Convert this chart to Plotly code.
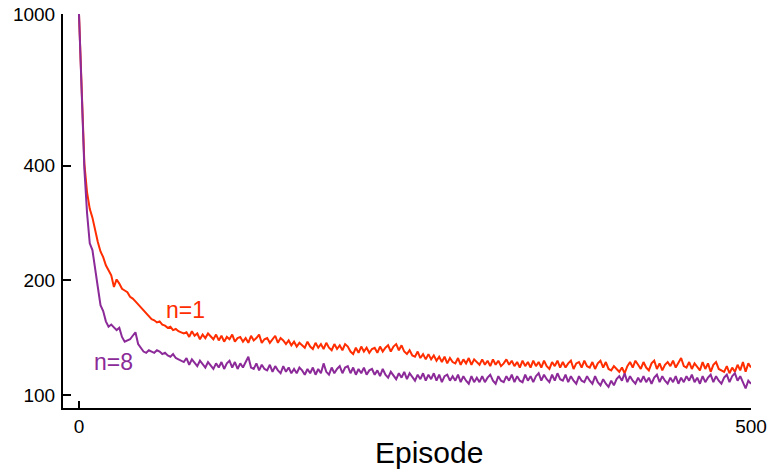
import math
import plotly.graph_objects as go

# Episodes sampled every 2 episodes (0..500)
episodes = list(range(0, 501, 2))

# n=1 (red) values
n1_values = [
    1000, 640, 405, 340, 308, 292, 268, 252, 238, 230,
    219, 213, 206, 192, 201, 196, 190, 188, 186, 181,
    179, 176, 173, 170, 167, 164, 161, 158, 157, 155,
    156, 153, 152, 150, 151, 148, 149, 147, 146, 145,
    146, 142, 147, 143, 145, 140, 144, 141, 145, 142,
    140, 144, 139, 143, 138, 142, 140, 144, 138, 141,
    142, 138, 141, 137, 143, 139, 141, 144, 137, 140,
    141, 137, 140, 143, 137, 141, 139, 136, 139, 135,
    138, 134, 137, 135, 133, 138, 134, 132, 137, 133,
    136, 132, 137, 133, 131, 136, 132, 135, 131, 136,
    134, 130, 128, 133, 129, 134, 130, 133, 129, 132,
    133, 129, 134, 130, 133, 135, 130, 134, 136, 131,
    135, 130, 128, 131, 127, 126, 130, 125, 128, 124,
    128, 124, 127, 123, 126, 122, 126, 121, 125, 122,
    121, 125, 120, 124, 121, 125, 120, 124, 122, 120,
    124, 120, 123, 119, 124, 120, 123, 119, 121, 124,
    120, 123, 119, 122, 118, 123, 119, 122, 118, 123,
    119, 122, 118, 123, 119, 117, 122, 119, 123, 118,
    122, 118, 121, 123, 117, 121, 122, 118, 123, 119,
    118, 122, 117, 121, 123, 118, 122, 117, 116, 119,
    117, 115, 118, 114, 119, 122, 118, 123, 120, 117,
    122, 118, 116, 121, 123, 117, 121, 116, 120, 122,
    119, 123, 118, 122, 125, 119, 118, 122, 117, 121,
    118, 116, 122, 117, 121, 115, 120, 122, 117, 116,
    115, 119, 114, 118, 115, 120, 116, 122, 115, 121,
    118,
]

# n=8 (purple) values
n8_values = [
    1000, 620, 392, 300, 250, 240, 212, 192, 172, 166,
    156, 151, 153, 150, 148, 150, 142, 138, 139, 140,
    143, 146, 136, 133, 130, 129, 131, 130, 129, 131,
    130, 128, 129, 127, 126, 128, 125, 124, 123, 122,
    125, 120, 124, 121, 119, 123, 120, 118, 122, 119,
    117, 121, 118, 122, 117, 121, 123, 118, 122, 117,
    121, 118, 122, 126, 118, 117, 121, 116, 120, 117,
    116, 120, 115, 119, 116, 114, 119, 115, 118, 114,
    117, 114, 118, 116, 113, 117, 114, 118, 113, 117,
    114, 121, 115, 113, 118, 114, 117, 119, 114, 118,
    119, 114, 118, 113, 117, 114, 118, 113, 116, 117,
    113, 116, 112, 117, 113, 111, 115, 112, 110, 114,
    111, 115, 110, 114, 111, 109, 113, 110, 114, 109,
    113, 110, 114, 109, 113, 108, 112, 113, 109, 112,
    109, 113, 108, 112, 109, 107, 112, 108, 111, 108,
    112, 108, 111, 113, 109, 107, 112, 109, 108, 112,
    109, 113, 108, 112, 109, 108, 113, 109, 112, 108,
    112, 114, 109, 113, 110, 108, 113, 109, 114, 110,
    109, 113, 108, 112, 109, 107, 112, 109, 108, 112,
    109, 107, 112, 108, 106, 110, 107, 105, 109, 106,
    110, 112, 109, 114, 108, 112, 109, 107, 111, 108,
    112, 108, 111, 107, 111, 113, 108, 112, 109, 107,
    111, 108, 112, 107, 111, 108, 112, 109, 113, 108,
    111, 107, 112, 108, 111, 113, 108, 112, 109, 107,
    111, 113, 108, 112, 114, 109, 112, 108, 104, 109,
    107,
]

x_tick_vals = [0, 500]
y_tick_vals = [100, 200, 400, 1000]
y_tick_text = ["100", "200", "400", "1000"]

RED = "#FF2D00"
PURPLE = "#8B2A98"
FONT = "Liberation Sans, Arial, Helvetica, sans-serif"

fig = go.Figure()
fig.add_trace(go.Scatter(x=episodes, y=n1_values, mode="lines",
                         line=dict(color=RED, width=2), name="n=1"))
fig.add_trace(go.Scatter(x=episodes, y=n8_values, mode="lines",
                         line=dict(color=PURPLE, width=2), name="n=8"))

# annotations on a log axis take log10 positions
fig.add_annotation(x=79, y=math.log10(167), text="n=1", showarrow=False,
                   font=dict(family=FONT, size=23, color=RED))
fig.add_annotation(x=26, y=math.log10(122), text="n=8", showarrow=False,
                   font=dict(family=FONT, size=23, color=PURPLE))
fig.add_annotation(xref="paper", yref="paper", x=0.532, y=-0.112,
                   text="Episode", showarrow=False, yanchor="middle",
                   font=dict(family=FONT, size=30, color="black"))

fig.update_layout(
    width=769, height=471,
    margin=dict(l=63, r=18, t=14, b=63, autoexpand=False),
    plot_bgcolor="white", paper_bgcolor="white",
    showlegend=False,
    font=dict(family=FONT, size=19, color="black"),
    xaxis=dict(range=[-11.9, 500], tickvals=x_tick_vals,
               showgrid=False, zeroline=False, automargin=False,
               showline=True, linecolor="black", linewidth=2,
               ticks="inside", ticklen=7, tickwidth=2, tickcolor="black",
               tickfont=dict(size=19)),
    yaxis=dict(type="log", range=[1.9657, 3.0], tickvals=y_tick_vals,
               ticktext=y_tick_text, automargin=False,
               showgrid=False, zeroline=False,
               showline=True, linecolor="black", linewidth=2,
               ticks="inside", ticklen=8, tickwidth=2, tickcolor="black",
               tickfont=dict(size=19), ticklabelstandoff=2),
)

fig.write_html("out.html", config={"displayModeBar": False},
               post_script="document.body.style.margin='0';document.body.style.overflow='hidden';")
